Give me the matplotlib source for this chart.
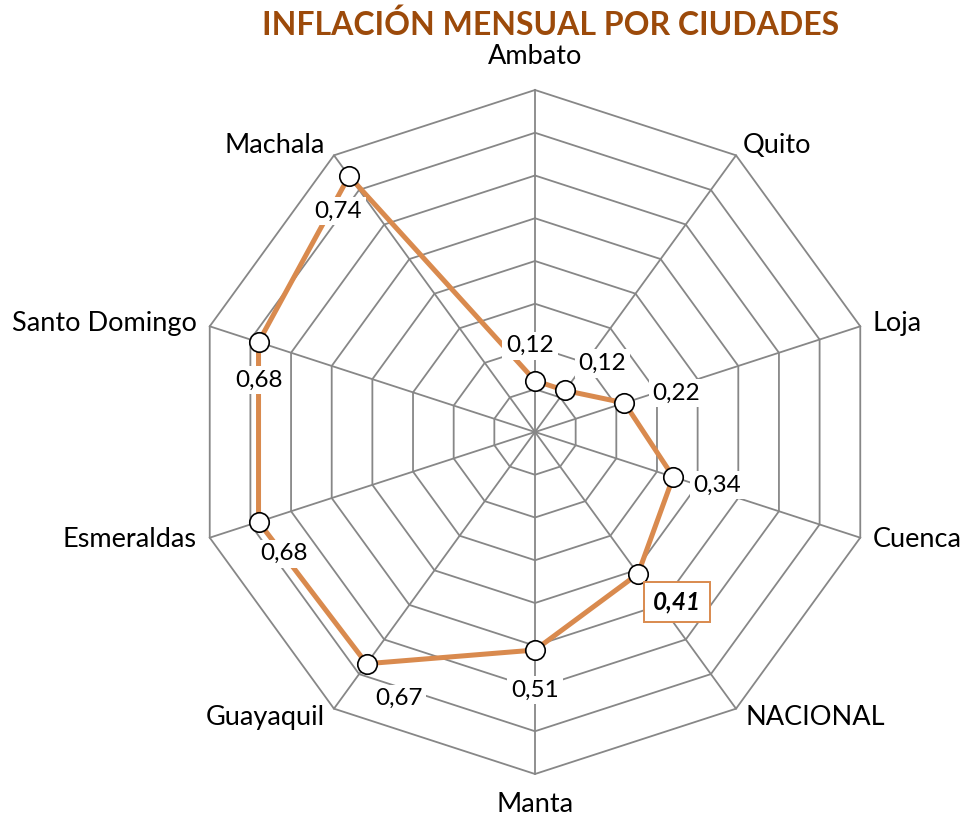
import numpy as np
from matplotlib import pyplot as plt

# data
ciudades = ['Ambato', 'Quito', 'Loja', 'Cuenca', 'NACIONAL', 'Manta',
            'Guayaquil', 'Esmeraldas', 'Santo Domingo', 'Machala']
inflacion = [0.12, 0.12, 0.22, 0.34, 0.41, 0.51, 0.67, 0.68, 0.68, 0.74]
etiquetas = ['0,12', '0,12', '0,22', '0,34', '0,41', '0,51', '0,67', '0,68', '0,68', '0,74']
anillos = np.arange(0.1, 0.81, 0.1)
titulo = 'INFLACIÓN MENSUAL POR CIUDADES'

naranja = '#D98A4E'
gris = '#878787'
marron = '#9C4A0A'
plt.rcParams['font.family'] = ['Lato', 'DejaVu Sans']

n = len(ciudades)
ang = np.arange(n) * 2 * np.pi / n  # clockwise from top


def xy(r, a):
    return r * np.sin(a), r * np.cos(a)


fig = plt.figure(figsize=(9.61, 8.19), dpi=100)
ax = fig.add_axes([0, 0, 1, 1])
# scale: 427.5 px per unit, center at (535, 432) px
s = 427.5
ax.set_xlim(-535 / s, (961 - 535) / s)
ax.set_ylim(-(819 - 432) / s, 432 / s)
ax.axis('off')

# polygon grid
ac = np.append(ang, ang[0])
for r in anillos:
    gx, gy = xy(r, ac)
    ax.plot(gx, gy, color=gris, lw=1.3, zorder=1)
for a in ang:
    ex, ey = xy(anillos[-1], a)
    ax.plot([0, ex], [0, ey], color=gris, lw=1.3, zorder=1)

# series
vals = np.append(inflacion, inflacion[0])
px, py = xy(vals, ac)
ax.plot(px, py, color=naranja, lw=3.6, zorder=3)
ax.plot(px[:-1], py[:-1], 'o', ms=14, mfc='white', mec='black', mew=1.2, zorder=5)

# category labels
off_cat = [(0, 33, 'center'), (7, 10, 'left'), (12, 3, 'left'), (12, -2, 'left'),
           (9, -9, 'left'), (0, -31, 'center'), (-9, -9, 'right'), (-13, -2, 'right'),
           (-13, 3, 'right'), (-9, 10, 'right')]
for c, a, (dx, dy, ha) in zip(ciudades, ang, off_cat):
    ax.annotate(c, xy(anillos[-1], a), xytext=(dx, dy), textcoords='offset pixels',
                ha=ha, va='center', fontsize=19.5, color='black')

# data labels
off_lab = [(-5, 35), (37, 27), (52, 10), (44, -8), (39, -28), (0, -40),
           (32, -35), (25, -32), (0, -38), (-11, -35)]
for i, (t, (dx, dy)) in enumerate(zip(etiquetas, off_lab)):
    p = xy(inflacion[i], ang[i])
    if ciudades[i] == 'NACIONAL':
        ax.annotate(t, p, xytext=(dx, dy), textcoords='offset pixels', ha='center',
                    va='center', fontsize=17.5, fontweight='bold', fontstyle='italic',
                    bbox=dict(boxstyle='square,pad=0.35', fc='white', ec=naranja, lw=1.4),
                    zorder=6)
    else:
        ax.annotate(t, p, xytext=(dx, dy), textcoords='offset pixels', ha='center',
                    va='center', fontsize=17.5,
                    bbox=dict(boxstyle='square,pad=0.15', fc='white', ec='none'),
                    zorder=4)

fig.text(551 / 961, 1 - 25 / 819, titulo, ha='center', va='center',
         fontsize=23, fontweight='bold', color=marron)

plt.savefig('out.png', dpi=100)
